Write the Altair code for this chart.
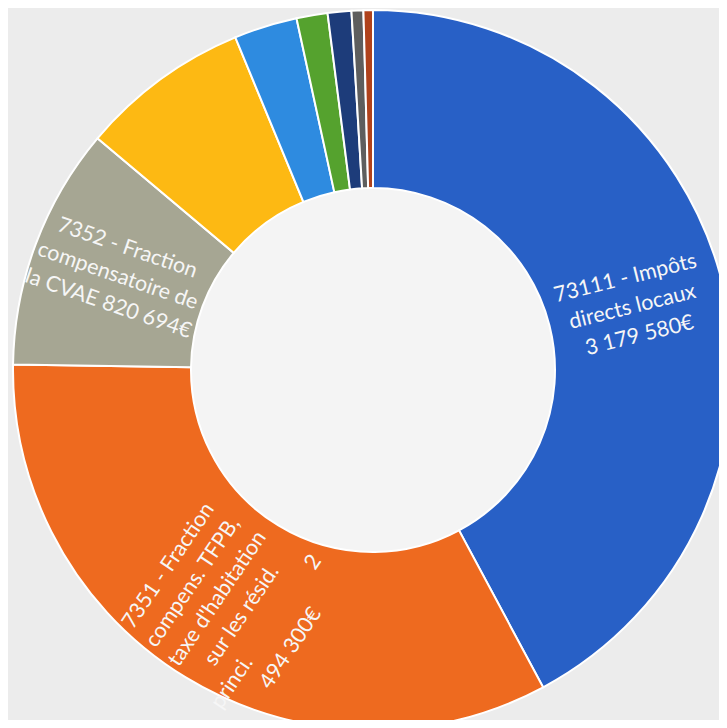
import altair as alt
import pandas as pd

# ---- data ----
categories = [
    "73111 - Impôts directs locaux",
    "7351 - Fraction compens. TFPB, taxe d'habitation sur les résid. princi.",
    "7352 - Fraction compensatoire de la CVAE",
    "Poste 4",
    "Poste 5",
    "Poste 6",
    "Poste 7",
    "Poste 8",
    "Poste 9",
]
values = [3179580, 2494300, 820694, 575000, 214000, 105000, 80000, 40000, 32000]
colors = ["#2860C6", "#EE6A1F", "#A6A693", "#FDB913", "#2E8BE0",
          "#55A22E", "#1D3C7A", "#5E5E5E", "#B0421C"]
NB = "\u00a0"
label_texts = [
    "73111 - Impôts\ndirects locaux\n3 179 580€",
    "7351 - Fraction\ncompens. TFPB,\ntaxe d'habitation\nsur les résid.\nprinci." + NB * 20 + "2\n494 300€",
    "7352 - Fraction\ncompensatoire de\nla CVAE 820 694€",
    "", "", "", "", "", "",
]
label_angles = [346, 304, 19, 0, 0, 0, 0, 0, 0]

df = pd.DataFrame({
    "cat": categories,
    "value": values,
    "idx": list(range(len(categories))),
    "label": label_texts,
    "ang": label_angles,
})

CX, CY = 365, 362

hole = alt.Chart(pd.DataFrame({"k": [0]})).mark_arc(
    innerRadius=0, outerRadius=182, color="#F4F4F4"
).encode(
    theta=alt.value(0), theta2=alt.value(6.2832),
    x=alt.value(CX), y=alt.value(CY),
)

base = alt.Chart(df).encode(
    theta=alt.Theta("value:Q", stack=True),
    order=alt.Order("idx:Q"),
    x=alt.value(CX), y=alt.value(CY),
)

arcs = base.mark_arc(innerRadius=182, outerRadius=360, stroke="white", strokeWidth=2).encode(
    color=alt.Color("cat:N", scale=alt.Scale(domain=categories, range=colors), legend=None),
)


def label_layer(i, dx, dy):
    return base.mark_text(
        radius=267, lineBreak="\n", font="Lato", fontSize=21.5, lineHeight=29.5,
        color="#F6F6F6", align="center", baseline="middle", dx=dx, dy=dy,
    ).encode(
        detail="cat:N",
        text=alt.condition(alt.datum.idx == i, "label:N", alt.value("")),
        angle=alt.Angle("ang:Q", scale=None),
    )


labels_blue = label_layer(0, 0, -27)
labels_orange = label_layer(1, -10, -72)
labels_grey = label_layer(2, -5, -28)

chart = alt.layer(hole, arcs, labels_blue, labels_orange, labels_grey).properties(
    width=711, height=712, padding=0,
    autosize=alt.AutoSizeParams(type="none"),
    background="#ECECEC",
).configure_view(stroke=None)

chart.save("out.html", embed_options={"renderer": "svg", "actions": False})
